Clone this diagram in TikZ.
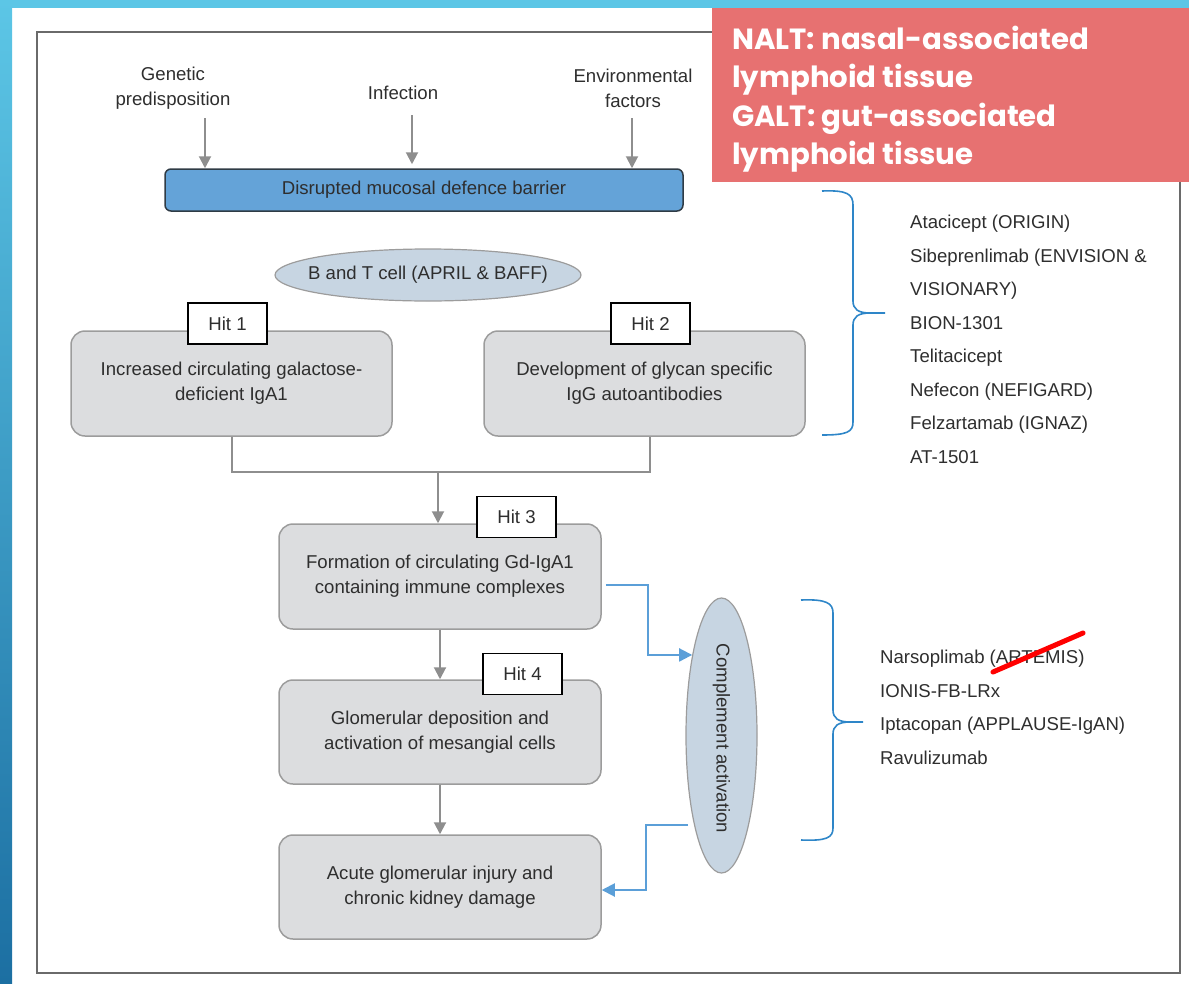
\documentclass[tikz,border=0pt]{standalone}
\usepackage{fontspec}
\setmainfont{Liberation Sans}
\newfontfamily\notefont{Poppins}
\usetikzlibrary{arrows.meta,shapes.geometric,calc}

\definecolor{ink}{HTML}{2E2E2E}
\definecolor{bandlight}{HTML}{5CC6E6}
\definecolor{banddark}{HTML}{1C6FA2}
\definecolor{framegray}{HTML}{6A6A6A}
\definecolor{boxfill}{HTML}{DCDDDF}
\definecolor{boxedge}{HTML}{9C9C9C}
\definecolor{linegray}{HTML}{8E8E8E}
\definecolor{barrierfill}{HTML}{64A3D8}
\definecolor{barrieredge}{HTML}{2F3B45}
\definecolor{ovalfill}{HTML}{C7D5E2}
\definecolor{linkblue}{HTML}{5B9FD8}
\definecolor{braceblue}{HTML}{2E86C8}
\definecolor{notefill}{HTML}{E77171}

\begin{document}
\begin{tikzpicture}[x=1pt,y=-1pt,
  txt/.style={text=ink, font=\fontsize{18.6}{25}\selectfont, align=center, inner sep=0pt},
  listitem/.style={text=ink, font=\fontsize{18.6}{22}\selectfont, inner sep=0pt, anchor=base west},
  stagebox/.style={txt, draw=boxedge, fill=boxfill, rounded corners=14pt, line width=1.5pt,
    minimum width=321pt, minimum height=105pt},
  hittag/.style={txt, draw=black, fill=white, line width=1.4pt,
    minimum width=79pt, minimum height=41pt},
  oval/.style={ellipse, draw=boxedge, fill=ovalfill, line width=1.2pt, inner sep=0pt},
  grayline/.style={draw=linegray, line width=2pt},
  grayarrow/.style={grayline, -{Triangle[length=12pt,width=12pt]}},
  bluearrow/.style={draw=linkblue, line width=2pt, -{Triangle[length=13pt,width=13pt]}},
  bracestyle/.style={draw=braceblue, line width=1.6pt},
]
\useasboundingbox (0,0) rectangle (1189,983);

% slide bands
\fill[bandlight] (0,0) rectangle (1189,8);
\shade[top color=bandlight, bottom color=banddark] (0,0) rectangle (12,983);

% outer frame
\draw[framegray, line width=1.5pt] (37,32) rectangle (1180,973);

% input factors
\node[txt] (gen) at (173,88.5) {Genetic\\predisposition};
\node[txt] (inf) at (403,93) {Infection};
\node[txt] (env) at (633,88) {Environmental\\factors};
\coordinate (g0) at (205,118);
\coordinate (i0) at (412,115);
\coordinate (e0) at (632,118);

% mucosal barrier
\node[txt, draw=barrieredge, fill=barrierfill, line width=1.5pt, rounded corners=6pt,
  minimum width=518pt, minimum height=42pt] (hdr) at (424,190) {Disrupted mucosal defence barrier};

\draw[grayarrow] (g0) -- (g0 |- hdr.north);
\draw[grayarrow] (i0) -- ([yshift=4pt]i0 |- hdr.north);
\draw[grayarrow] (e0) -- (e0 |- hdr.north);

% B and T cell oval
\node[oval, minimum width=306pt, minimum height=52pt] (bt) at (428,275) {};
\node[txt] (bttext) at (bt.center) {B and T cell (APRIL \& BAFF)};

% hits 1 and 2
\node[stagebox] (box1) at (231.5,383.5) {Increased circulating galactose-\\deficient IgA1};
\node[stagebox] (box2) at (644.5,383.5) {Development of glycan specific\\IgG autoantibodies};
\node[hittag] (hit1) at (227.5,323.5) {Hit 1};
\node[hittag] (hit2) at (650.5,323.5) {Hit 2};

% merge of hits 1 and 2
\coordinate (m) at (438,472);
\draw[grayline] (box1.south) |- (m) -| ([xshift=5pt]box2.south);

% hit 3 onwards
\node[stagebox, minimum width=322pt] (box3) at (440,576.5) {Formation of circulating Gd-IgA1\\containing immune complexes};
\node[stagebox, minimum width=322pt, minimum height=104pt] (box4) at (440,732) {Glomerular deposition and\\activation of mesangial cells};
\node[stagebox, minimum width=322pt, minimum height=104pt] (box5) at (440,887) {Acute glomerular injury and\\chronic kidney damage};
\node[hittag] (hit3) at (516.5,517) {Hit 3};
\node[hittag] (hit4) at (522.5,674) {Hit 4};

\draw[grayarrow] (m) -- (m |- box3.north);
\draw[grayarrow] (box3.south) -- (box4.north);
\draw[grayarrow] (box4.south) -- (box5.north);

% complement activation
\node[oval, minimum width=71pt, minimum height=275pt] (ca) at (721.5,735.5) {};
\node[txt, rotate=-90] (catext) at ([yshift=-3pt]ca.center) {Complement activation};

\draw[bluearrow] ([xshift=4pt,yshift=-8.5pt]box3.east) -- ++(42,0) |- (ca.110);
\draw[bluearrow] ([xshift=-6pt]ca.253) -- ++(-42,0) |- ([yshift=-3pt]box5.east);

% therapies acting on hits 1 and 2
\draw[bracestyle] (822,191) .. controls (847,190) and (853,194) .. (853,205) -- (853,301)
  .. controls (853,309) and (858,313) .. (870,313) -- (885,313);
\draw[bracestyle] (870,313) .. controls (858,313) and (853,317) .. (853,325) -- (853,422)
  .. controls (853,432) and (847,435) .. (822,435);

\node[listitem] (t1) at (910,228.5) {Atacicept (ORIGIN)};
\node[listitem] (t2) at (910,262) {Sibeprenlimab (ENVISION \&};
\node[listitem] (t3) at (910,295.5) {VISIONARY)};
\node[listitem] (t4) at (910,329) {BION-1301};
\node[listitem] (t5) at (910,362.5) {Telitacicept};
\node[listitem] (t6) at (910,396) {Nefecon (NEFIGARD)};
\node[listitem] (t7) at (910,429.5) {Felzartamab (IGNAZ)};
\node[listitem] (t8) at (910,463) {AT-1501};

% therapies acting on complement
\draw[bracestyle] (801,600) .. controls (826,599) and (833,603) .. (833,613) -- (833,710)
  .. controls (833,718) and (838,722) .. (850,722) -- (863,722);
\draw[bracestyle] (850,722) .. controls (838,722) and (833,726) .. (833,734) -- (833,828)
  .. controls (833,838) and (826,841) .. (801,840);

\node[listitem] (c1) at (880,663.5) {Narsoplimab (ARTEMIS)};
\node[listitem] (c2) at (880,697.3) {IONIS-FB-LRx};
\node[listitem] (c3) at (880,730.5) {Iptacopan (APPLAUSE-IgAN)};
\node[listitem] (c4) at (880,764) {Ravulizumab};

% strike through the halted trial
\draw[red, line width=5pt, line cap=round] (993,672) -- (1083,633);

% abbreviation note
\fill[notefill] (712,8) rectangle (1189,182);
\node[anchor=north west, inner sep=0pt, align=left, text=white,
  font=\notefont\bfseries\fontsize{29.2}{38.3}\selectfont] (note) at (732,26)
  {NALT: nasal-associated\\lymphoid tissue\\GALT: gut-associated\\lymphoid tissue};
\end{tikzpicture}
\end{document}
